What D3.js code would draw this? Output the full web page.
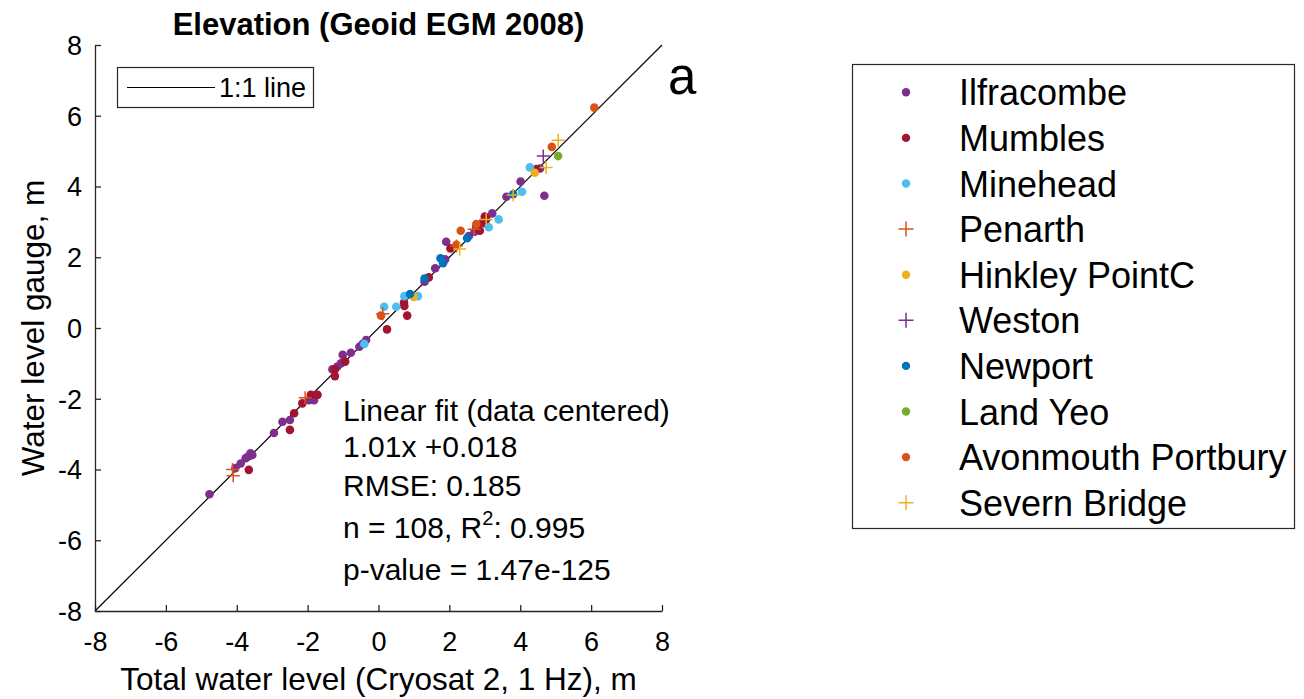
<!DOCTYPE html>
<html>
<head>
<meta charset="utf-8">
<script src="https://cdn.jsdelivr.net/npm/d3@7"></script>
<style>
  body { margin: 0; background: #fff; }
  svg { display: block; }
  text { font-family: "Liberation Sans", Arial, Helvetica, sans-serif; fill: #000; }
</style>
</head>
<body>
<svg id="chart" width="1304" height="699"></svg>
<script>
// Station pairs: [Cryosat-2 total water level, gauge water level] in metres
const ilfracombe = [
  [-4.77,-4.70],[-4.04,-3.96],[-3.89,-3.83],[-3.75,-3.68],[-3.69,-3.64],[-3.61,-3.54],
  [-3.56,-3.59],[-3.64,-3.62],[-2.95,-2.97],[-2.71,-2.65],[-2.50,-2.60],[-1.96,-2.04],
  [-1.82,-2.04],[-1.77,-1.89],[-1.30,-1.17],[-1.16,-1.09],[-1.06,-1.00],[-1.01,-0.76],
  [-0.78,-0.70],[-0.54,-0.53],[-0.45,-0.45],[-0.35,-0.34],[1.30,1.31],[1.60,1.69],
  [1.88,1.94],[1.91,2.44],[2.55,2.60],[2.71,2.72],[2.95,3.00],[3.21,3.24],
  [3.61,3.71],[4.01,4.14],[4.56,4.51],[4.68,3.74]
];
const mumbles = [
  [-3.66,-4.01],[-2.50,-2.88],[-2.38,-2.41],[-2.15,-2.13],[-1.91,-1.89],[-1.72,-1.89],
  [-1.23,-1.17],[-1.23,-1.36],[-0.94,-0.95],[0.24,-0.04],[0.81,0.35],[0.72,0.72],
  [0.73,0.62],[1.42,1.43],[2.03,2.25],[2.76,2.86],[2.86,2.75],[2.98,2.96],
  [3.04,3.07],[3.00,3.15],[4.46,4.49]
];
const minehead = [
  [-0.40,-0.45],[0.16,0.60],[0.50,0.60],[0.73,0.90],[1.11,0.90],[3.11,2.85],
  [3.39,3.07],[4.05,3.85],[4.27,4.54]
];
const penarth = [[-4.12,-4.00],[-4.10,-4.18],[-2.07,-1.97],[0.12,0.40],[2.20,2.32],[2.70,2.79]];
const hinkley = [[0.99,0.88],[4.41,4.39]];
const weston = [[4.65,4.86]];
const newport = [[0.89,0.96],[1.30,1.40],[1.75,1.97],[1.82,1.83],[2.50,2.54],[3.80,3.78]];
const landYeo = [[5.07,4.86]];
const avonmouth = [[0.07,0.35],[2.20,2.35],[2.32,2.75],[2.76,2.94],[4.89,5.12],[6.09,6.23]];
const severn = [[2.29,2.23],[3.04,3.07],[3.80,3.76],[4.73,4.54],[5.07,5.31]];

const stationNames = ["Ilfracombe","Mumbles","Minehead","Penarth","Hinkley PointC",
  "Weston","Newport","Land Yeo","Avonmouth Portbury","Severn Bridge"];
const stationColors = ["#7E2F8E","#A2142F","#4DBEEE","#D95319","#EDB120",
  "#7E2F8E","#0072BD","#77AC30","#D95319","#EDB120"];
const stationMarkers = ["dot","dot","dot","plus","dot","plus","dot","dot","dot","plus"];
const stationData = [ilfracombe, mumbles, minehead, penarth, hinkley,
  weston, newport, landYeo, avonmouth, severn];

const tickValues = [-8,-6,-4,-2,0,2,4,6,8];
const tickLabels = ["-8","-6","-4","-2","0","2","4","6","8"];
const statLines = ["Linear fit (data centered)","1.01x +0.018","RMSE: 0.185",
  "n = 108, R2: 0.995","p-value = 1.47e-125"];

const series = stationNames.map((name, i) => ({
  name, color: stationColors[i], marker: stationMarkers[i], points: stationData[i]
}));

const svg = d3.select("#chart");
const axisColor = "#262626";

const x = d3.scaleLinear().domain([-8, 8]).range([95, 662]);
const y = d3.scaleLinear().domain([-8, 8]).range([611, 45]);

// 1:1 reference line
svg.append("line")
  .attr("x1", x(-8)).attr("y1", y(-8)).attr("x2", x(8)).attr("y2", y(8))
  .attr("stroke", "#000").attr("stroke-width", 1.2);

// Scatter marks
const plusHalf = 6.5;
series.forEach(s => {
  const g = svg.append("g");
  if (s.marker === "dot") {
    g.selectAll("circle").data(s.points).join("circle")
      .attr("cx", d => x(d[0])).attr("cy", d => y(d[1])).attr("r", 4.3)
      .attr("fill", s.color);
  } else {
    g.selectAll("path").data(s.points).join("path")
      .attr("d", d => `M${x(d[0]) - plusHalf},${y(d[1])}h${2 * plusHalf}M${x(d[0])},${y(d[1]) - plusHalf}v${2 * plusHalf}`)
      .attr("stroke", s.color).attr("stroke-width", 1.5).attr("fill", "none");
  }
});

// Axes (ticks pointing inward)
const fmt = d => tickLabels[tickValues.indexOf(d)];
const xAxis = svg.append("g").attr("transform", `translate(0,${y(-8)})`)
  .call(d3.axisBottom(x).tickValues(tickValues).tickFormat(fmt).tickSizeInner(-6).tickSizeOuter(0).tickPadding(0));
xAxis.selectAll("text").attr("y", 40).attr("dy", null).style("font-size", "27px").attr("fill", axisColor);

const yAxis = svg.append("g").attr("transform", `translate(${x(-8)},0)`)
  .call(d3.axisLeft(y).tickValues(tickValues).tickFormat(fmt).tickSizeInner(-6).tickSizeOuter(0).tickPadding(0));
yAxis.selectAll("text").attr("x", -13).attr("dy", "0.35em").style("font-size", "27px").attr("fill", axisColor);

[xAxis, yAxis].forEach(a => {
  a.selectAll("path, line").attr("stroke", axisColor).attr("stroke-width", 1.3);
  a.attr("font-family", null).attr("font-size", null);
});

// Axis labels and title
svg.append("text").attr("x", (x(-8) + x(8)) / 2).attr("y", 690)
  .attr("text-anchor", "middle").style("font-size", "31.5px").attr("fill", axisColor)
  .text("Total water level (Cryosat 2, 1 Hz), m");

svg.append("text").attr("transform", `translate(44,${(y(-8) + y(8)) / 2}) rotate(-90)`)
  .attr("text-anchor", "middle").style("font-size", "31.5px").attr("fill", axisColor)
  .text("Water level gauge, m");

svg.append("text").attr("x", (x(-8) + x(8)) / 2).attr("y", 35)
  .attr("text-anchor", "middle").style("font-size", "31px").style("font-weight", "bold")
  .text("Elevation (Geoid EGM 2008)");

svg.append("text").attr("x", 668).attr("y", 94).style("font-size", "51px").text("a");

// 1:1 line legend
svg.append("rect").attr("x", 117.5).attr("y", 67.5).attr("width", 196).attr("height", 40)
  .attr("fill", "#fff").attr("stroke", axisColor).attr("stroke-width", 1.2);
svg.append("line").attr("x1", 127).attr("x2", 215).attr("y1", 87.5).attr("y2", 87.5)
  .attr("stroke", "#000").attr("stroke-width", 1.2);
svg.append("text").attr("x", 219).attr("y", 97).style("font-size", "27px").text("1:1 line");

// Fit statistics
const statY = [421, 457, 496, 538, 580];
statLines.forEach((line, i) => {
  const t = svg.append("text").attr("x", 343).attr("y", statY[i]).style("font-size", "30px");
  if (line.includes("R2")) {
    const [pre, post] = line.split("R2");
    t.append("tspan").text(pre + "R");
    t.append("tspan").attr("dy", -13).style("font-size", "20px").text("2");
    t.append("tspan").attr("dy", 13).text(post);
  } else {
    t.text(line);
  }
});

// Station legend
const legendX = 852.5, legendY = 64.5, legendW = 442, legendH = 464;
svg.append("rect").attr("x", legendX).attr("y", legendY).attr("width", legendW).attr("height", legendH)
  .attr("fill", "#fff").attr("stroke", axisColor).attr("stroke-width", 1.2);
const rowY = d3.scaleLinear().domain([0, 9]).range([92.3, 502.7]);
series.forEach((s, i) => {
  const cy = rowY(i);
  if (s.marker === "dot") {
    svg.append("circle").attr("cx", 906).attr("cy", cy).attr("r", 4.2).attr("fill", s.color);
  } else {
    svg.append("path").attr("d", `M${906 - 7.5},${cy}h15M906,${cy - 7.5}v15`)
      .attr("stroke", s.color).attr("stroke-width", 1.5);
  }
  svg.append("text").attr("x", 959).attr("y", cy + 13).style("font-size", "36px").text(s.name);
});
</script>
</body>
</html>
